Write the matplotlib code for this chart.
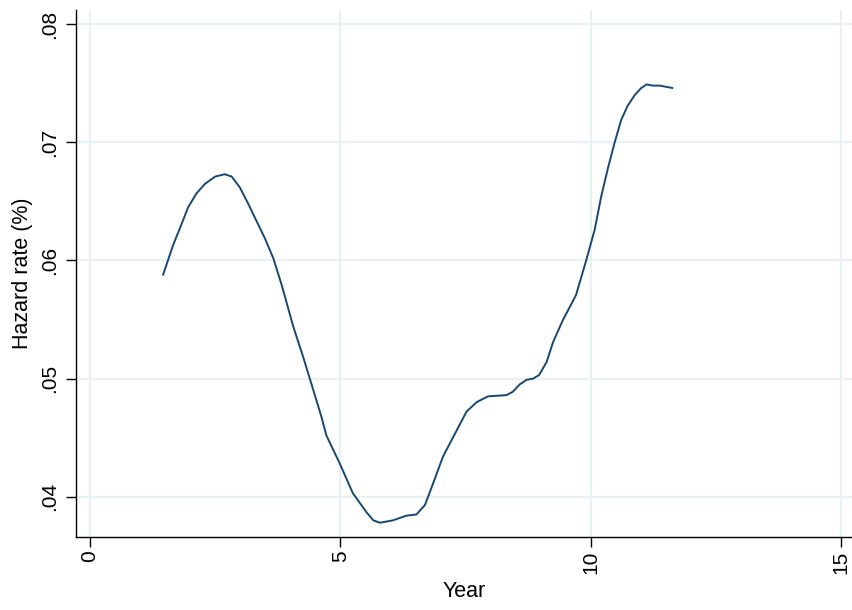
import matplotlib
matplotlib.use("Agg")
import matplotlib.pyplot as plt

plt.rcParams["font.family"] = ["Liberation Sans", "DejaVu Sans"]

# smoothed hazard estimate
year = [1.46, 1.66, 1.83, 1.96, 2.13, 2.30, 2.50, 2.69, 2.83, 2.99, 3.16, 3.33,
        3.49, 3.66, 3.83, 4.06, 4.26, 4.39, 4.62, 4.72, 4.99, 5.25, 5.52, 5.66,
        5.79, 6.05, 6.32, 6.52, 6.69, 6.85, 7.05, 7.26, 7.52, 7.72, 7.95, 8.32,
        8.45, 8.58, 8.72, 8.85, 8.97, 9.12, 9.25, 9.45, 9.65, 9.71, 9.91, 10.08,
        10.21, 10.35, 10.48, 10.61, 10.74, 10.88, 11.01, 11.12, 11.24, 11.38,
        11.63]
hazard = [.0588, .0613, .0631, .0645, .0657, .0665, .0671, .0673, .0671, .0662,
          .0648, .0633, .0619, .0602, .0579, .0544, .0518, .0500, .0468, .0452,
          .0428, .0403, .0387, .0380, .0378, .0380, .0384, .0385, .0393, .0411,
          .0434, .0451, .0472, .0480, .0485, .0486, .0489, .0495, .0499, .0500,
          .0503, .0514, .0531, .0550, .0566, .0571, .0600, .0626, .0654, .0679,
          .0700, .0719, .0731, .0740, .0746, .0749, .0748, .0748, .0746]

xticks = [0, 5, 10, 15]
yticks = [.04, .05, .06, .07, .08]
ytick_labels = [".04", ".05", ".06", ".07", ".08"]

fig = plt.figure(figsize=(8.53, 6.10), dpi=100)
ax = fig.add_axes([0.0891, 0.1202, 0.9109, 0.8634])

ax.plot(year, hazard, color="#1a476f", lw=1.4)

ax.set_xlim(-0.28, 15.24)
ax.set_ylim(0.03662, 0.0812)
ax.set_xticks(xticks)
ax.set_xticklabels([str(t) for t in xticks], rotation=90)
ax.set_yticks(yticks)
ax.set_yticklabels(ytick_labels, rotation=90, va="center")

ax.grid(True, color="#e9f1f3", lw=1.6)
ax.set_axisbelow(True)
for side in ("top", "right"):
    ax.spines[side].set_visible(False)
for side in ("left", "bottom"):
    ax.spines[side].set_color("black")
    ax.spines[side].set_linewidth(1.0)

ax.tick_params(axis="both", length=7, width=1.0, labelsize=15)
ax.tick_params(axis="y", pad=5)
ax.tick_params(axis="x", pad=3)

ax.set_xlabel("Year", fontsize=15.5, labelpad=5)
ax.set_ylabel("Hazard rate (%)", fontsize=15.5, labelpad=5)

fig.savefig("out.png", dpi=100)
